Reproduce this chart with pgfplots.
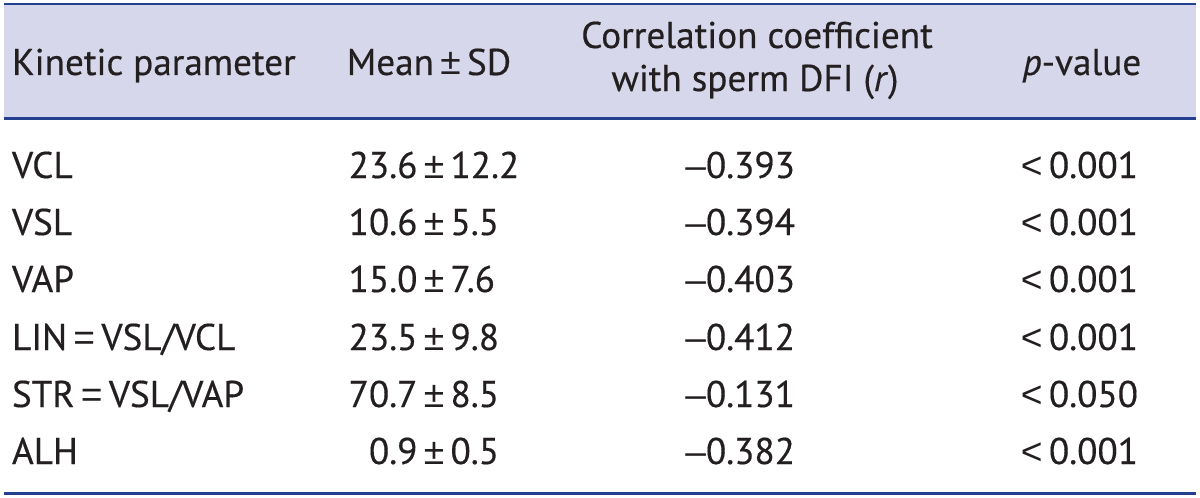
\documentclass[border=0pt]{standalone}
\usepackage{pgfplots}
\pgfplotsset{compat=1.18}
\usepackage{fontspec}
\setmainfont[FakeBold=0.4]{PT Sans}
\newfontfamily\symf{Liberation Sans}
\definecolor{rule}{HTML}{24408E}
\definecolor{headbg}{HTML}{D6D7EB}
\definecolor{ink}{HTML}{231F20}
\newcommand{\tf}{\fontsize{18.6}{22}\selectfont}
\newcommand{\PM}{{\symf ±}}
\newcommand{\LT}{{\symf <}}
\newcommand{\EQ}{{\symf =}}
\newcommand{\MN}{{\symf –}}
\newcommand{\gap}{\hspace{0.17em}}
\newcommand{\pmc}[2]{\makebox[0pt][r]{#1\gap}\PM\makebox[0pt][l]{\gap#2}}
\pgfplotsset{
  txt/.style={draw=none, mark=none, nodes near coords, point meta=explicit symbolic,
    every node near coord/.append style={inner sep=0pt, outer sep=0pt, text=ink, font=\tf, anchor=#1}},
}
\begin{document}
\begin{tikzpicture}
\begin{axis}[
  x=0.5pt, y=0.5pt, y dir=reverse,
  xmin=0, xmax=1200, ymin=0, ymax=498,
  hide axis, clip=false, scale only axis,
]
% canvas
\addplot[draw=none, fill=white] coordinates {(0,0) (1200,0) (1200,498) (0,498)} -- cycle;
% header background
\addplot[draw=none, fill=headbg] coordinates {(4,4) (1196,4) (1196,118) (4,118)} -- cycle;
% rules
\addplot[rule, line width=1pt] coordinates {(4,3.8) (1196,3.8)};
\addplot[rule, line width=1.3pt] coordinates {(4,118.5) (1196,118.5)};
\addplot[rule, line width=1.5pt] coordinates {(4,493) (1196,493)};
% header
\addplot[txt=base west] coordinates {(12,75) [Kinetic parameter]};
\addplot[txt=base] coordinates {(429,75) [{Mean\gap\PM\gap SD}]
  (757,48) [Correlation coefficient]
  (755,91) [{with sperm DFI (\textit{r})}]
  (1082,75) [{\textit{p}-value}]};
% column 1
\addplot[txt=base west] coordinates {
  (12,178) [VCL]
  (12,235) [VSL]
  (12,292) [VAP]
  (12,350) [{LIN\gap\EQ\gap VSL/VCL}]
  (12,407) [{STR\gap\EQ\gap VSL/VAP}]
  (12,464) [ALH]};
% column 2
\addplot[txt=base] coordinates {
  (434,178) [{\pmc{23.6}{12.2}}]
  (434,235) [{\pmc{10.6}{5.5}}]
  (434,292) [{\pmc{15.0}{7.6}}]
  (434,350) [{\pmc{23.5}{9.8}}]
  (434,407) [{\pmc{70.7}{8.5}}]
  (434,464) [{\pmc{0.9}{0.5}}]};
% column 3
\addplot[txt=base east] coordinates {
  (795,178) [{\MN0.393}]
  (795,235) [{\MN0.394}]
  (795,292) [{\MN0.403}]
  (795,350) [{\MN0.412}]
  (795,407) [{\MN0.131}]
  (795,464) [{\MN0.382}]};
% column 4
\addplot[txt=base east] coordinates {
  (1138,178) [{\LT\gap0.001}]
  (1138,235) [{\LT\gap0.001}]
  (1138,292) [{\LT\gap0.001}]
  (1138,350) [{\LT\gap0.001}]
  (1138,407) [{\LT\gap0.050}]
  (1138,464) [{\LT\gap0.001}]};
\end{axis}
\end{tikzpicture}
\end{document}
